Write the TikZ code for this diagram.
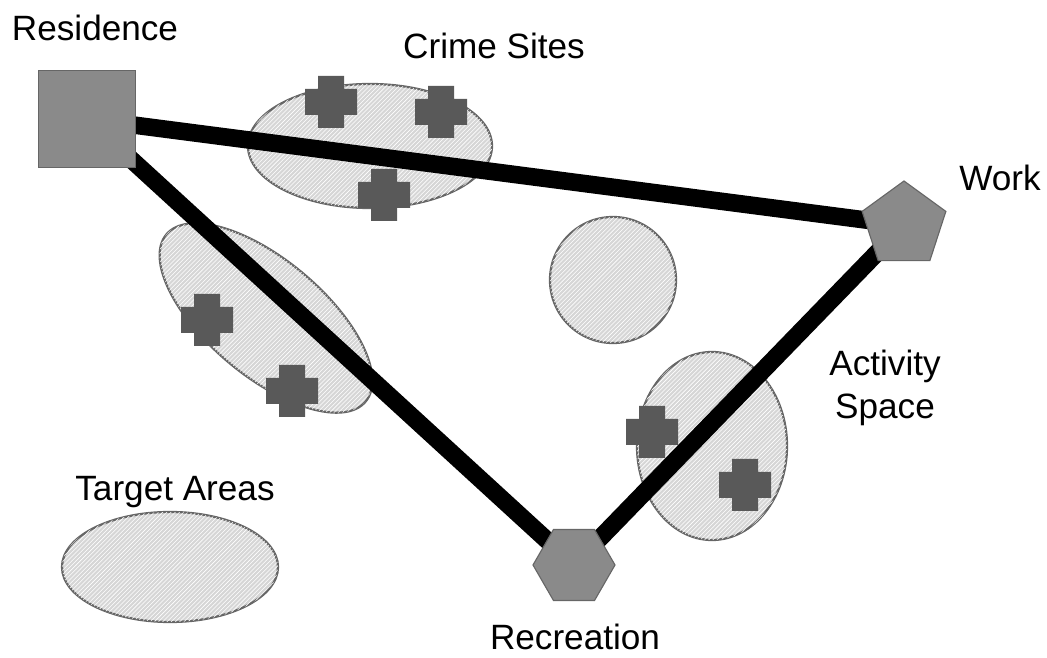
\documentclass[tikz,border=0pt]{standalone}
\usepackage{fontspec}
\setmainfont{Liberation Sans}
\usepackage{tikz}
\usetikzlibrary{shapes.geometric,patterns,backgrounds}
\definecolor{placegray}{HTML}{8A8A8A}
\definecolor{crossgray}{HTML}{595959}
\tikzset{
  lbl/.style={font=\fontsize{25}{30}\selectfont,align=center,inner sep=0pt},
  place/.style={draw=black!60,fill=placegray,inner sep=0pt,line width=0.8pt},
  area/.style={draw=black!60,line width=1.6pt,fill=gray!32,
    postaction={pattern=north east lines,pattern color=white}},
  route/.style={line width=12.5pt,black},
  pics/crimesite/.style={code={
    \fill[crossgray] (-13,-26) -- (13,-26) -- (13,-13) -- (26,-13) -- (26,13) -- (13,13)
      -- (13,26) -- (-13,26) -- (-13,13) -- (-26,13) -- (-26,-13) -- (-13,-13) -- cycle;
  }}
}

\begin{document}
\begin{tikzpicture}[x=0.025cm,y=0.025cm]
\useasboundingbox (0,0) rectangle (1047,658);
% places
\node[place, rectangle, minimum size=2.425cm] (res) at (87,539) {};
\node[place, regular polygon, regular polygon sides=5, minimum size=2.2cm] (work) at (904,433) {};
\node[place, regular polygon, regular polygon sides=6, minimum size=2.05cm] (rec) at (574,93) {};
% labels
\node[lbl] (reslbl) at (95,630) {Residence};
\node[lbl] (crimelbl) at (494,612) {Crime Sites};
\node[lbl] (worklbl) at (1000,480) {Work};
\node[lbl] (actlbl) at (885,270) {Activity\\Space};
\node[lbl] (targetlbl) at (175,166) {Target Areas};
\node[lbl] (reclbl) at (575,21) {Recreation};
% areas and routes behind the places
\begin{scope}[on background layer]
\draw[area] (370,512) ellipse [x radius=122, y radius=62];
\draw[area, rotate around={-40:(266,340)}] (266,340) ellipse [x radius=130, y radius=58];
\draw[area] (613,378) circle [radius=63];
\draw[area] (712,212) ellipse [x radius=75, y radius=94];
\draw[area] (170,91) ellipse [x radius=108, y radius=55];
\draw[route] (res.center) -- (work.center);
\draw[route] (res.center) -- (rec.center);
\draw[route] (work.center) -- (rec.center);
\end{scope}
% crime sites
\foreach \p in {(331,556),(441,546),(384,463),(207,338),(292,267),(652,226),(745,173)}
  \pic at \p {crimesite};
\end{tikzpicture}
\end{document}
